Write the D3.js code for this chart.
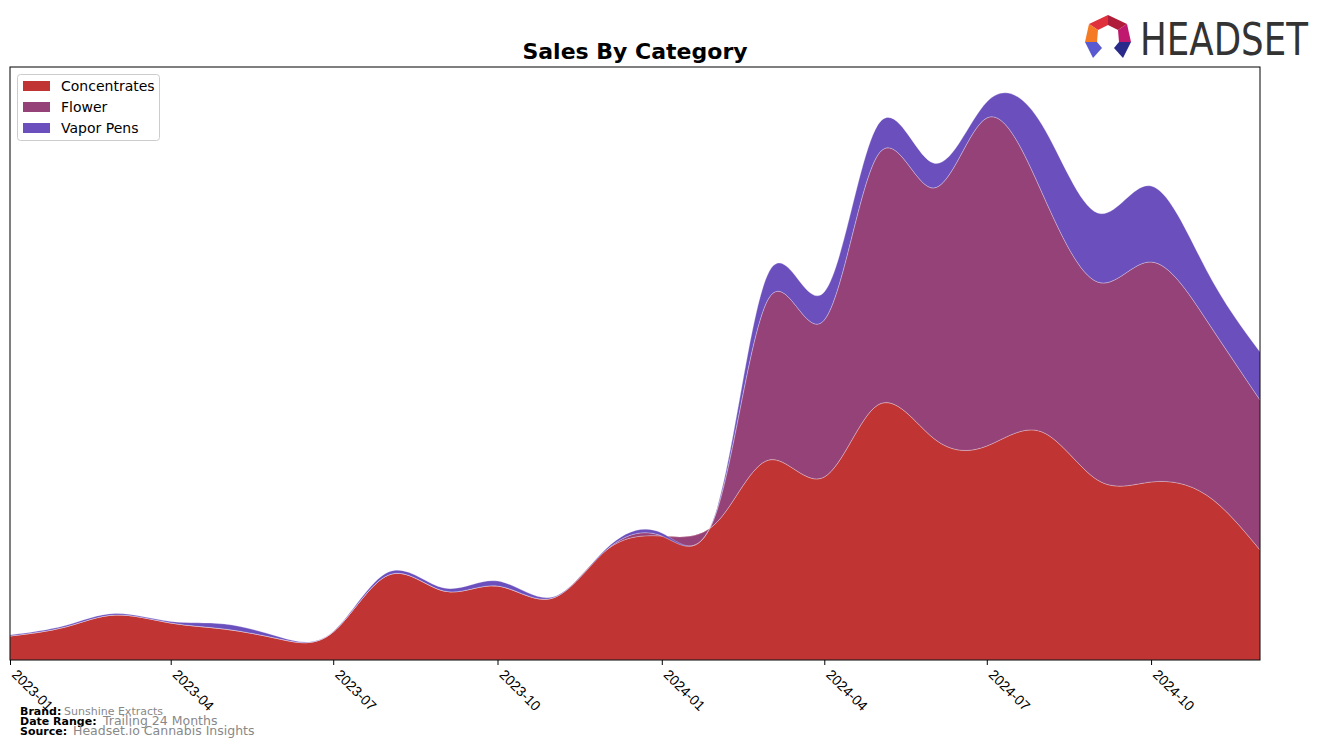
<!DOCTYPE html>
<html><head><meta charset="utf-8">
<script src="https://cdn.jsdelivr.net/npm/d3@7"></script>
<style>body{margin:0;background:#fff;} svg{display:block;font-family:"DejaVu Sans",sans-serif;}</style>
</head><body><svg id="c" width="1324" height="748"></svg>
<script>
const months = ["2023-01","2023-02","2023-03","2023-04","2023-05","2023-06","2023-07","2023-08","2023-09","2023-10","2023-11","2023-12",
"2024-01","2024-02","2024-03","2024-04","2024-05","2024-06","2024-07","2024-08","2024-09","2024-10","2024-11","2024-12"];
const seriesNames = ["Concentrates","Flower","Vapor Pens"];
const concentrates = [24,33,45,37,31,21,28,85,69,74,62,110,124,138,200,183,255,222,214,228,180,178,165,110];
const flower =       [0,0,0,0,0,0,0,0,0,0,0,0,0,12,162,157,250,250,328,239,198,220,175,150];
const vaporPens =    [1,1.5,1.5,1.5,5,2,0.5,3,3,5,1,1.5,3,2,26,28,30,25,16,68,69,76,50,48];
const tickLabels = ["2023-01","2023-04","2023-07","2023-10","2024-01","2024-04","2024-07","2024-10"];
const colors = ["#c03434","#954278","#6a4fbd"];

const svg = d3.select("#c");
const L=10, R=1260, T=67, B=660;
const parse = d3.timeParse("%Y-%m");
const rows = months.map((m,i)=>({date:parse(m), Concentrates:concentrates[i], Flower:flower[i], "Vapor Pens":vaporPens[i]}));
const x = d3.scaleTime().domain(d3.extent(rows,d=>d.date)).range([L,R]);
const y = d3.scaleLinear().domain([0,593]).range([B,T]);
const stack = d3.stack().keys(seriesNames)(rows);
const area = d3.area().x(d=>x(d.data.date)).y0(d=>y(d[0])).y1(d=>y(d[1])).curve(d3.curveNatural);

svg.append("defs").append("clipPath").attr("id","clip").append("rect").attr("x",L).attr("y",T).attr("width",R-L).attr("height",B-T);
const g = svg.append("g").attr("clip-path","url(#clip)");
g.selectAll("path").data(stack).join("path")
  .attr("d",area).attr("fill",(d,i)=>colors[i])
  .attr("stroke","rgba(255,255,255,0.35)").attr("stroke-width",0.8);

svg.append("rect").attr("x",L).attr("y",T).attr("width",R-L).attr("height",B-T).attr("fill","none").attr("stroke","#000").attr("stroke-width",1);

const ax = svg.append("g").attr("transform",`translate(0,${B})`)
  .call(d3.axisBottom(x).tickValues(tickLabels.map(parse)).tickFormat(d3.timeFormat("%Y-%m")).tickSize(5).tickSizeOuter(0));
ax.select(".domain").remove();
ax.selectAll("line").attr("stroke","#000");
ax.selectAll("text").attr("font-size",14).attr("fill","#000").attr("text-anchor","start")
  .attr("x",0).attr("y",0).attr("dy","0.35em").attr("transform","translate(4,12) rotate(45)");

svg.append("text").attr("x",635).attr("y",59).attr("text-anchor","middle").attr("font-size",22).attr("font-weight","bold").text("Sales By Category");

const lg = svg.append("g");
lg.append("rect").attr("x",17.5).attr("y",74.5).attr("width",142).attr("height",66).attr("rx",3).attr("fill","#fff").attr("stroke","#ccc");
seriesNames.forEach((n,i)=>{
  lg.append("rect").attr("x",23).attr("y",81+i*21).attr("width",27).attr("height",10).attr("fill",colors[i]);
  lg.append("text").attr("x",61).attr("y",91+i*21).attr("font-size",14).text(n);
});

const ft = svg.append("g");
const foot = [["Brand:","Sunshine Extracts",715,64,11],["Date Range:","Trailing 24 Months",725,103,12.5],["Source:","Headset.io Cannabis Insights",735,73,12.5]];
foot.forEach(f=>{
  ft.append("text").attr("x",20).attr("y",f[2]).attr("font-size",11).attr("font-weight","bold").text(f[0]);
  ft.append("text").attr("x",f[3]).attr("y",f[2]).attr("font-size",f[4]).attr("fill","#888").text(f[1]);
});

// logo
const lgo = svg.append("g");
const O = {t:[1108,15], ur:[1127,24], r:[1131,42], br:[1123,58], ul:[1089,24], l:[1085,42], bl:[1093,58]};
const I = {t:[1108,25], ur:[1118,30], r:[1119,42], br:[1114,48], ul:[1098,30], l:[1097,42], bl:[1102,48]};
const segs = [[[O.t,O.ul,I.ul,I.t],"#e0303c"],[[O.t,O.ur,I.ur,I.t],"#b01d3a"],[[O.ur,O.r,I.r,I.ur],"#c0186e"],
  [[O.ul,O.l,I.l,I.ul],"#f47a24"],[[O.l,O.bl,I.bl,I.l],"#5a5ad0"],[[O.r,O.br,I.br,I.r],"#2a2a8a"]];
segs.forEach(s=>lgo.append("polygon").attr("points",s[0].map(p=>p.join(",")).join(" ")).attr("fill",s[1]));
lgo.append("text").attr("x",1140).attr("y",55).attr("font-size",44).attr("fill","#333").attr("textLength",168).attr("lengthAdjust","spacingAndGlyphs").text("HEADSET");
</script></body></html>
